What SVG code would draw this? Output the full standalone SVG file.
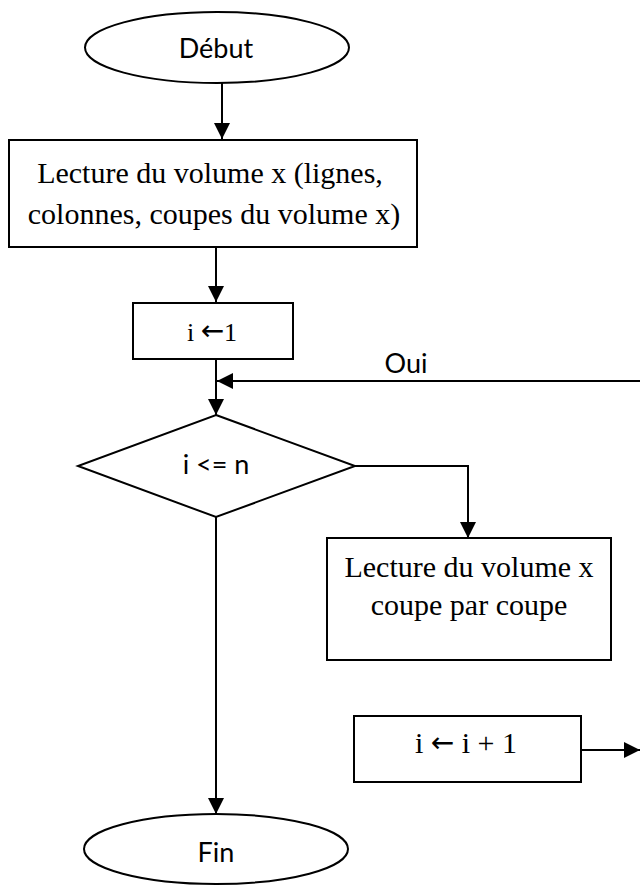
<svg xmlns="http://www.w3.org/2000/svg" width="640" height="886" viewBox="0 0 640 886">
  <defs>
    <marker id="arrow" markerUnits="userSpaceOnUse" markerWidth="16" markerHeight="16" refX="16" refY="8" orient="auto">
      <path d="M0,0 L16,8 L0,16 z" fill="#000"/>
    </marker>
    <style>
      .shape { fill: #fff; stroke: #000; stroke-width: 2; }
      .link { fill: none; stroke: #000; stroke-width: 2; marker-end: url(#arrow); }
      .plain { fill: none; stroke: #000; stroke-width: 2; }
      .sans { font-family: Lato, "Open Sans", "Liberation Sans", sans-serif; font-size: 27px; fill: #000; text-anchor: middle; }
      .serif { font-family: "Liberation Serif", "DejaVu Serif", serif; font-size: 30px; fill: #000; text-anchor: middle; }
      .arw { font-family: "DejaVu Sans", sans-serif; font-size: 28px; }
    </style>
  </defs>

  <!-- connectors -->
  <g id="connectors">
    <line class="link" x1="222" y1="83" x2="222" y2="139"/>
    <line class="link" x1="216" y1="247" x2="216" y2="302"/>
    <line class="plain" x1="216" y1="359" x2="216" y2="381"/>
    <line class="link" x1="216" y1="381" x2="216" y2="415"/>
    <line class="link" x1="640" y1="381" x2="217" y2="381"/>
    <polyline class="link" points="355,466 468,466 468,538"/>
    <line class="link" x1="216" y1="517" x2="216" y2="814"/>
    <line class="link" x1="581" y1="750" x2="640" y2="750"/>
    <text class="sans" x="406" y="373">Oui</text>
  </g>

  <!-- start -->
  <g id="start">
    <ellipse class="shape" cx="217" cy="47.5" rx="132" ry="35.5"/>
    <text class="sans" x="216" y="58">Début</text>
  </g>

  <!-- read volume -->
  <g id="read-volume">
    <rect class="shape" x="9" y="140" width="408" height="107"/>
    <text class="serif" x="210" y="183">Lecture du volume x (lignes,</text>
    <text class="serif" x="214" y="224">colonnes, coupes du volume x)</text>
  </g>

  <!-- init counter -->
  <g id="init">
    <rect class="shape" x="133" y="303" width="160" height="56"/>
    <text class="serif" x="212" y="341" style="font-size:26px">i <tspan class="arw" dy="-1">←</tspan><tspan dy="1">1</tspan></text>
  </g>

  <!-- loop test -->
  <g id="test">
    <polygon class="shape" points="216,415 355,466 216,517 78,466"/>
    <text class="sans" x="216" y="474">i &lt;= n</text>
  </g>

  <!-- read slice by slice -->
  <g id="read-slices">
    <rect class="shape" x="327" y="538" width="284" height="122"/>
    <text class="serif" x="469" y="577">Lecture du volume x</text>
    <text class="serif" x="469" y="615">coupe par coupe</text>
  </g>

  <!-- increment -->
  <g id="increment">
    <rect class="shape" x="354" y="716" width="227" height="66"/>
    <text class="serif" x="466" y="753">i <tspan class="arw" dy="-1">←</tspan><tspan dy="1"> i + 1</tspan></text>
  </g>

  <!-- end -->
  <g id="end">
    <ellipse class="shape" cx="216" cy="849" rx="132" ry="35"/>
    <text class="sans" x="216" y="862">Fin</text>
  </g>
</svg>
